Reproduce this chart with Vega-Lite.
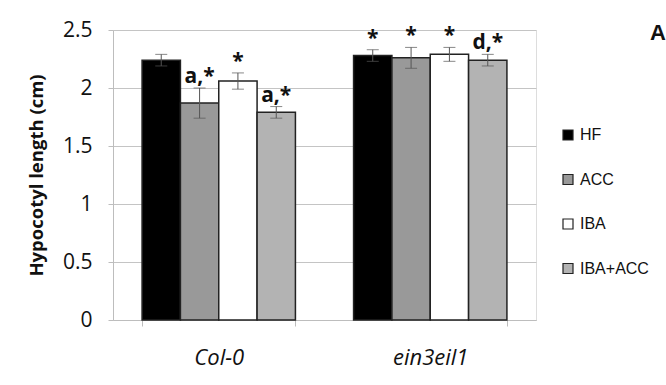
{
  "$schema": "https://vega.github.io/schema/vega-lite/v6.json",
  "width": 423,
  "height": 290,
  "autosize": {"type": "none"},
  "padding": {"left": 113, "top": 30, "right": 130, "bottom": 65},
  "background": "white",
  "title": {
    "text": "A",
    "anchor": "end",
    "frame": "group",
    "orient": "top",
    "fontSize": 22,
    "fontWeight": "bold",
    "font": "Liberation Sans",
    "color": "#111",
    "dx": 130,
    "dy": 30
  },
  "data": {
    "values": [
      {"genotype": "Col-0", "treatment": "HF", "mean": 2.24, "lo": 2.19, "hi": 2.29, "label": ""},
      {"genotype": "Col-0", "treatment": "ACC", "mean": 1.87, "lo": 1.74, "hi": 2.0, "label": "a,*"},
      {"genotype": "Col-0", "treatment": "IBA", "mean": 2.06, "lo": 1.99, "hi": 2.13, "label": "*"},
      {"genotype": "Col-0", "treatment": "IBA+ACC", "mean": 1.79, "lo": 1.74, "hi": 1.84, "label": "a,*"},
      {"genotype": "ein3eil1", "treatment": "HF", "mean": 2.28, "lo": 2.23, "hi": 2.33, "label": "*"},
      {"genotype": "ein3eil1", "treatment": "ACC", "mean": 2.26, "lo": 2.17, "hi": 2.35, "label": "*"},
      {"genotype": "ein3eil1", "treatment": "IBA", "mean": 2.29, "lo": 2.23, "hi": 2.35, "label": "*"},
      {"genotype": "ein3eil1", "treatment": "IBA+ACC", "mean": 2.24, "lo": 2.19, "hi": 2.29, "label": "d,*"}
    ]
  },
  "encoding": {
    "x": {
      "field": "genotype",
      "type": "nominal",
      "sort": ["Col-0", "ein3eil1"],
      "scale": {"paddingInner": 0.275, "paddingOuter": 0.1375},
      "axis": {
        "title": null,
        "labelAngle": 0,
        "labelFont": "Open Sans",
        "labelFontStyle": "italic",
        "labelFontSize": 22,
        "labelColor": "#111",
        "labelPadding": 21,
        "tickBand": "extent",
        "tickSize": 6,
        "tickColor": "#bdbdbd",
        "domainColor": "#bdbdbd",
        "grid": false
      }
    },
    "xOffset": {
      "field": "treatment",
      "type": "nominal",
      "sort": ["HF", "ACC", "IBA", "IBA+ACC"],
      "scale": {"paddingInner": 0, "paddingOuter": 0}
    }
  },
  "layer": [
    {
      "mark": {"type": "bar", "stroke": "#222", "strokeWidth": 1.5},
      "encoding": {
        "y": {
          "field": "mean",
          "type": "quantitative",
          "scale": {"domain": [0, 2.5], "nice": false},
          "axis": {
            "title": "Hypocotyl length (cm)",
            "titleFont": "Open Sans",
            "titleFontSize": 18.5,
            "titleFontWeight": "bold",
            "titleColor": "#111",
            "titlePadding": 16,
            "values": [0, 0.5, 1, 1.5, 2, 2.5],
            "format": "~g",
            "labelFont": "Open Sans",
            "labelFontSize": 21,
            "labelColor": "#111",
            "labelPadding": 16,
            "tickSize": 5,
            "tickColor": "#bdbdbd",
            "domainColor": "#bdbdbd",
            "gridColor": "#c4c4c4",
            "gridWidth": 1
          }
        },
        "fill": {
          "field": "treatment",
          "type": "nominal",
          "sort": ["HF", "ACC", "IBA", "IBA+ACC"],
          "scale": {
            "domain": ["HF", "ACC", "IBA", "IBA+ACC"],
            "range": ["#000000", "#999999", "#ffffff", "#b3b3b3"]
          },
          "legend": {
            "title": null,
            "orient": "none",
            "legendX": 447,
            "legendY": 97,
            "symbolType": "square",
            "symbolSize": 100,
            "symbolStrokeColor": "#222",
            "symbolStrokeWidth": 1.2,
            "labelFont": "Liberation Sans",
            "labelFontSize": 16,
            "labelColor": "#111",
            "labelOffset": 4,
            "rowPadding": 28.5
          }
        }
      }
    },
    {
      "mark": {"type": "rule", "color": "#555", "strokeWidth": 1},
      "encoding": {
        "y": {"field": "lo", "type": "quantitative"},
        "y2": {"field": "hi"}
      }
    },
    {
      "mark": {"type": "tick", "orient": "horizontal", "color": "#555", "size": 12, "thickness": 1},
      "encoding": {"y": {"field": "hi", "type": "quantitative"}}
    },
    {
      "mark": {"type": "tick", "orient": "horizontal", "color": "#555", "size": 12, "thickness": 1},
      "encoding": {"y": {"field": "lo", "type": "quantitative"}}
    },
    {
      "mark": {"type": "text", "baseline": "alphabetic", "dy": -5, "font": "Open Sans", "fontSize": 21, "fontWeight": "bold", "color": "#111"},
      "encoding": {
        "y": {"field": "hi", "type": "quantitative"},
        "text": {"field": "label"}
      }
    }
  ]
}
